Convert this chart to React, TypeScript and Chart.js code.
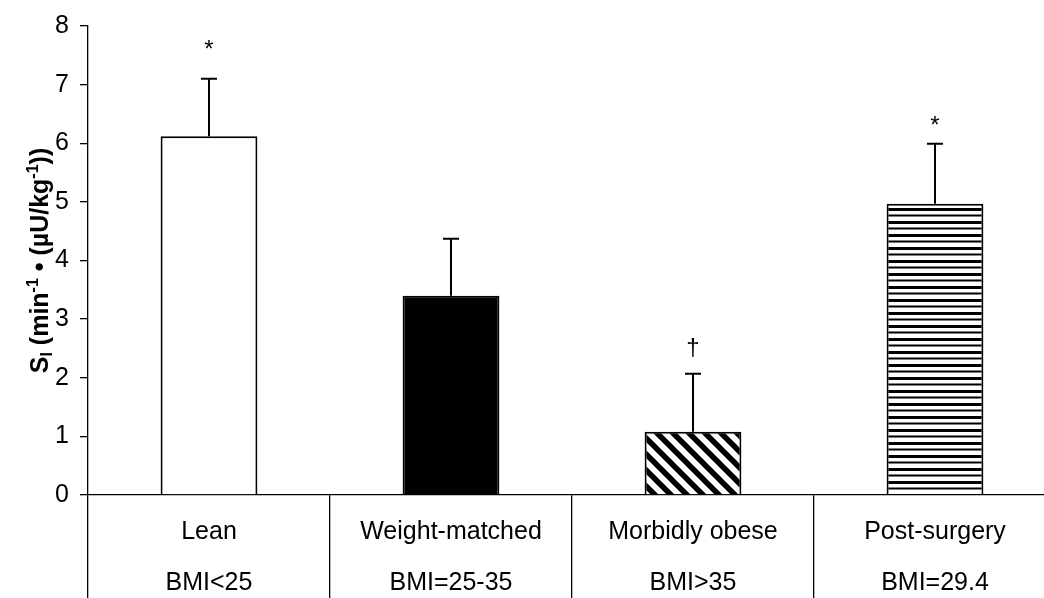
import React, { useEffect, useRef } from "react";
import { Chart, registerables } from "chart.js";

Chart.register(...registerables);

// Insulin sensitivity (S_I) by group, mean + SE
const groups = ["Lean", "Weight-matched", "Morbidly obese", "Post-surgery"];
const bmiLabels = ["BMI<25", "BMI=25-35", "BMI>35", "BMI=29.4"];
const siMeans = [6.12, 3.4, 1.08, 4.97];
const siErrors = [0.98, 0.97, 0.99, 1.02];
// significance marks and the level at which each is centred
const sigMarks = ["*", "", "\u2020", "*"];
const sigLevels = [7.68, null, 2.52, 6.38];
const yMin = 0;
const yMax = 8;
const yStep = 1;

const FONT = "'Liberation Sans', Arial, Helvetica, sans-serif";

function makeDiagonal(): CanvasPattern | string {
  const t = 16;
  const c = document.createElement("canvas");
  c.width = t;
  c.height = t;
  const g = c.getContext("2d");
  if (!g) return "#000";
  g.fillStyle = "#fff";
  g.fillRect(0, 0, t, t);
  g.strokeStyle = "#000";
  g.lineWidth = 5.5;
  for (let k = -1; k <= 1; k++) {
    g.beginPath();
    g.moveTo(-2, k * t - 2);
    g.lineTo(t + 2, t + k * t + 2);
    g.stroke();
  }
  return g.createPattern(c, "repeat") || "#000";
}

function makeStripes(): CanvasPattern | string {
  const c = document.createElement("canvas");
  c.width = 8;
  c.height = 13;
  const g = c.getContext("2d");
  if (!g) return "#000";
  g.fillStyle = "#fff";
  g.fillRect(0, 0, 8, 13);
  g.fillStyle = "#000";
  g.fillRect(0, 0, 8, 3);
  g.fillRect(0, 6.5, 8, 2);
  return g.createPattern(c, "repeat") || "#000";
}

const annotations = {
  id: "siAnnotations",
  afterDatasetsDraw(chart: any) {
    const { ctx, scales } = chart;
    const xs = scales.x;
    const ys = scales.y;
    ctx.save();
    // upper error bars
    ctx.strokeStyle = "#000";
    ctx.lineWidth = 2;
    siMeans.forEach((m, i) => {
      const x = xs.getPixelForValue(i);
      const y0 = ys.getPixelForValue(m);
      const y1 = ys.getPixelForValue(m + siErrors[i]);
      ctx.beginPath();
      ctx.moveTo(x, y0);
      ctx.lineTo(x, y1);
      ctx.moveTo(x - 8, y1);
      ctx.lineTo(x + 8, y1);
      ctx.stroke();
    });
    // significance marks
    ctx.fillStyle = "#000";
    ctx.font = `24px ${FONT}`;
    ctx.textAlign = "center";
    ctx.textBaseline = "alphabetic";
    sigMarks.forEach((s, i) => {
      const lvl = sigLevels[i];
      if (!s || lvl === null) return;
      const x = xs.getPixelForValue(i);
      const yc = ys.getPixelForValue(lvl);
      const mt = ctx.measureText(s);
      const a = mt.actualBoundingBoxAscent;
      const d = mt.actualBoundingBoxDescent;
      ctx.fillText(s, x, yc + (a - d) / 2);
    });
    ctx.restore();
  },
  afterDraw(chart: any) {
    const { ctx, chartArea } = chart;
    ctx.save();
    // y-axis title with subscript and superscripts
    const big = 25;
    const small = 16;
    const parts = [
      { t: "S", s: big, dy: 0 },
      { t: "I", s: small, dy: 4 },
      { t: " (min", s: big, dy: 0 },
      { t: "-1", s: small, dy: -10 },
      { t: " \u2022 (\u00b5U/kg", s: big, dy: 0 },
      { t: "-1", s: small, dy: -10 },
      { t: "))", s: big, dy: 0 },
    ];
    let total = 0;
    const widths = parts.map((p) => {
      ctx.font = `bold ${p.s}px ${FONT}`;
      const w = ctx.measureText(p.t).width;
      total += w;
      return w;
    });
    ctx.translate(48, (chartArea.top + chartArea.bottom) / 2);
    ctx.rotate(-Math.PI / 2);
    ctx.fillStyle = "#000";
    ctx.textAlign = "left";
    ctx.textBaseline = "alphabetic";
    let x = -total / 2;
    parts.forEach((p, i) => {
      ctx.font = `bold ${p.s}px ${FONT}`;
      ctx.fillText(p.t, x, p.dy);
      x += widths[i];
    });
    ctx.restore();
  },
};

export default function App() {
  const ref = useRef<HTMLCanvasElement | null>(null);

  useEffect(() => {
    const canvas = ref.current;
    if (!canvas) return;
    const fills = ["#ffffff", "#000000", makeDiagonal(), makeStripes()];
    const chart = new Chart(canvas, {
      type: "bar",
      data: {
        labels: groups.map((g, i) => [g, bmiLabels[i]]),
        datasets: [
          {
            data: siMeans,
            backgroundColor: fills as any,
            borderColor: "#000",
            borderWidth: 2,
            barPercentage: 0.4,
            categoryPercentage: 1,
          },
        ],
      },
      options: {
        responsive: false,
        animation: false,
        devicePixelRatio: 1,
        layout: { padding: { top: 26, left: 0, right: 4, bottom: 0 } },
        plugins: {
          legend: { display: false },
          tooltip: { enabled: false },
          title: { display: false },
        },
        scales: {
          x: {
            type: "category",
            offset: true,
            border: { display: true, color: "#000", width: 1.3 },
            grid: {
              offset: true,
              drawOnChartArea: false,
              drawTicks: true,
              tickLength: 110,
              color: "#000",
              lineWidth: 1.3,
            },
            ticks: {
              autoSkip: false,
              maxRotation: 0,
              minRotation: 0,
              padding: -98.5,
              color: "#000",
              font: { family: FONT, size: 25, lineHeight: 2.04 },
            },
            afterFit(scale: any) {
              scale.height = 103;
            },
          },
          y: {
            min: yMin,
            max: yMax,
            border: { display: true, color: "#000", width: 1.3 },
            grid: {
              drawOnChartArea: false,
              drawTicks: true,
              tickLength: 8,
              color: "#000",
              lineWidth: 1.3,
            },
            ticks: {
              stepSize: yStep,
              padding: 11,
              color: "#000",
              font: { family: FONT, size: 25 },
            },
            afterFit(scale: any) {
              scale.width = 88;
            },
          },
        },
      },
      plugins: [annotations],
    });
    return () => chart.destroy();
  }, []);

  return (
    <div
      style={{
        position: "absolute",
        left: 0,
        top: 0,
        width: 1044,
        height: 598,
        overflow: "hidden",
        background: "#fff",
      }}
    >
      <canvas ref={ref} width={1060} height={598} style={{ display: "block" }} />
    </div>
  );
}
